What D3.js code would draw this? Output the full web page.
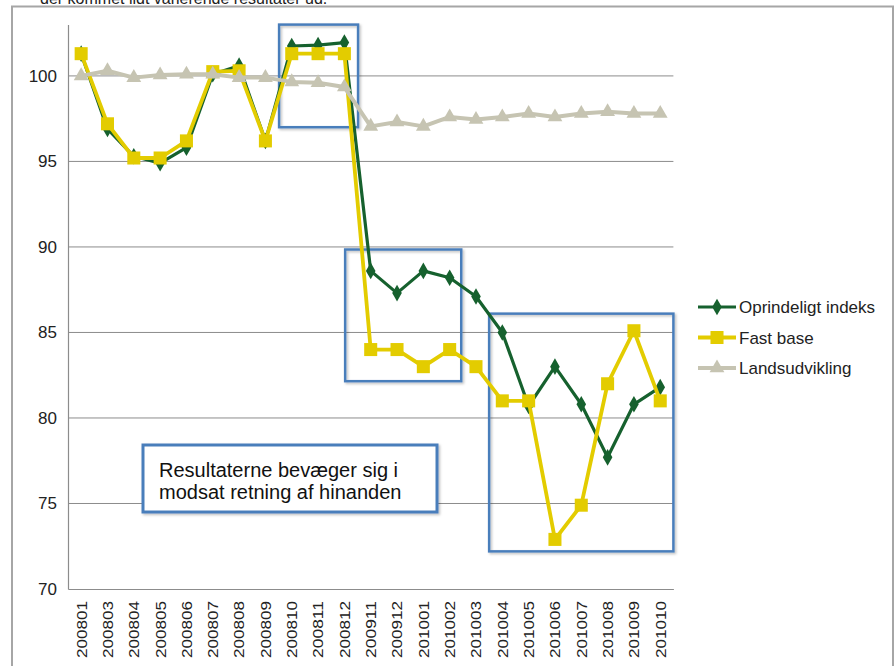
<!DOCTYPE html>
<html>
<head>
<meta charset="utf-8">
<script src="https://cdn.jsdelivr.net/npm/d3@7"></script>
<style>
  html, body { margin: 0; padding: 0; background: #fff; }
  svg { display: block; font-family: Arial, "Liberation Sans", sans-serif; }
</style>
</head>
<body>
<svg id="chart" width="895" height="666"></svg>
<script>
// Months shown on the category axis
const categories = ["200801","200803","200804","200805","200806","200807","200808","200809",
  "200810","200811","200812","200911","200912","201001","201002","201003","201004",
  "201005","201006","201007","201008","201009","201010"];

// Index values per series
const oprindeligt = [101.3, 96.9, 95.3, 94.9, 95.8, 100.1, 100.6, 96.2, 101.75, 101.8, 101.95,
  88.6, 87.3, 88.6, 88.2, 87.1, 85.0, 80.7, 83.0, 80.8, 77.7, 80.8, 81.8];
const fastBase = [101.3, 97.2, 95.2, 95.2, 96.2, 100.25, 100.3, 96.2, 101.3, 101.3, 101.3,
  84.0, 84.0, 83.0, 84.0, 83.0, 81.0, 81.0, 72.9, 74.9, 82.0, 85.1, 81.0];
const landsudvikling = [100.0, 100.3, 99.9, 100.05, 100.1, 100.1, 99.9, 99.9, 99.65, 99.6, 99.35,
  97.05, 97.3, 97.05, 97.6, 97.45, 97.6, 97.8, 97.6, 97.8, 97.9, 97.8, 97.8];

const seriesNames = ["Oprindeligt indeks", "Fast base", "Landsudvikling"];
const yTicks = [70, 75, 80, 85, 90, 95, 100];

// Highlight rectangles, given in category-index and index-value units
const highlightFrom = [7.52, 10.03, 15.5];
const highlightTo = [10.52, 14.44, 22.5];
const highlightTop = [103, 89.85, 86.1];
const highlightBottom = [97.0, 82.15, 72.2];

const noteLines = ["Resultaterne bevæger sig i", "modsat retning af hinanden"];
const introText = "der kommet lidt varierende resultater ud.";

const svg = d3.select("#chart");

const plot = { left: 68, right: 673.4, top: 24.6, bottom: 589 };

const x = d3.scaleBand().domain(categories).range([plot.left, plot.right]).padding(0);
const cx = c => x(c) + x.bandwidth() / 2;
const xi = d3.scaleLinear().domain([0, categories.length - 1])
  .range([cx(categories[0]), cx(categories[categories.length - 1])]);
const y = d3.scaleLinear().domain([70, 103]).range([plot.bottom, plot.top]);

// drop-shadow for the drawn shapes
const defs = svg.append("defs");
const f = defs.append("filter").attr("id", "shadow").attr("x", "-10%").attr("y", "-10%")
  .attr("width", "130%").attr("height", "130%");
f.append("feDropShadow").attr("dx", 1.5).attr("dy", 1.5).attr("stdDeviation", 1.2)
  .attr("flood-color", "#000").attr("flood-opacity", 0.25);

// intro line, clipped by the top of the window
svg.append("text").attr("x", 40).attr("y", 4).attr("font-size", 16).attr("fill", "#222")
  .text(introText);

// outer chart frame
svg.append("rect").attr("x", 12).attr("y", 6.5).attr("width", 881).attr("height", 700)
  .attr("fill", "none").attr("stroke", "#a6a6a6").attr("stroke-width", 2);

// gridlines
svg.append("g").selectAll("line").data(yTicks.filter(v => v > 70)).join("line")
  .attr("x1", plot.left).attr("x2", plot.right)
  .attr("y1", d => y(d)).attr("y2", d => y(d))
  .attr("stroke", "#8c8c8c").attr("stroke-width", 1);

// y axis
const yAxis = svg.append("g").attr("transform", `translate(${plot.left},0)`)
  .call(d3.axisLeft(y).tickValues(yTicks).tickSize(0).tickPadding(11));
yAxis.select(".domain").attr("stroke", "#8c8c8c").attr("stroke-width", 1.2);
yAxis.selectAll("text").attr("font-size", 17).attr("fill", "#222")
  .attr("font-family", "Arial, 'Liberation Sans', sans-serif");

// x axis
const xAxis = svg.append("g").attr("transform", `translate(0,${plot.bottom})`)
  .call(d3.axisBottom(x).tickSize(0));
xAxis.select(".domain").attr("stroke", "#8c8c8c").attr("stroke-width", 1.2);
xAxis.selectAll("text")
  .attr("font-size", 15).attr("fill", "#222")
  .attr("font-family", "Arial, 'Liberation Sans', sans-serif")
  .attr("text-anchor", "end")
  .attr("transform", "rotate(-90)")
  .attr("x", -12).attr("y", 0).attr("dy", "0.36em")
  .attr("textLength", 57).attr("lengthAdjust", "spacingAndGlyphs");

// highlight rectangles
svg.append("g").selectAll("rect").data(highlightFrom).join("rect")
  .attr("x", (d, i) => xi(d))
  .attr("y", (d, i) => y(highlightTop[i]))
  .attr("width", (d, i) => xi(highlightTo[i]) - xi(d))
  .attr("height", (d, i) => y(highlightBottom[i]) - y(highlightTop[i]))
  .attr("fill", "none").attr("stroke", "#4a7ebb").attr("stroke-width", 2.5)
  .attr("filter", "url(#shadow)");

// series
const series = [
  { name: seriesNames[0], values: oprindeligt, color: "#16612e", width: 3.2, symbol: d3.symbolDiamond, size: 80, rot: 0 },
  { name: seriesNames[1], values: fastBase, color: "#e3cc00", width: 3.8, symbol: d3.symbolSquare, size: 170, rot: 0 },
  { name: seriesNames[2], values: landsudvikling, color: "#c6c4b2", width: 4, symbol: d3.symbolTriangle, size: 95, rot: 0 }
];

const line = d3.line().x((d, i) => cx(categories[i])).y(d => y(d));

series.forEach(s => {
  const g = svg.append("g");
  g.append("path").attr("d", line(s.values)).attr("fill", "none")
    .attr("stroke", s.color).attr("stroke-width", s.width).attr("stroke-linejoin", "round");
  g.selectAll("path.m").data(s.values).join("path").attr("class", "m")
    .attr("d", d3.symbol().type(s.symbol).size(s.size))
    .attr("transform", (d, i) => `translate(${cx(categories[i])},${y(d)})`)
    .attr("fill", s.color);
});

// legend
const lg = svg.append("g");
series.forEach((s, i) => {
  const ly = 307 + i * 30.5;
  lg.append("line").attr("x1", 698).attr("x2", 736).attr("y1", ly).attr("y2", ly)
    .attr("stroke", s.color).attr("stroke-width", s.width);
  lg.append("path").attr("d", d3.symbol().type(s.symbol).size(s.size)())
    .attr("transform", `translate(717,${ly})`).attr("fill", s.color);
  lg.append("text").attr("x", 739).attr("y", ly).attr("dy", "0.36em")
    .attr("font-size", 17).attr("fill", "#222").text(s.name);
});

// note box
const note = svg.append("g");
note.append("rect").attr("x", 143).attr("y", 445).attr("width", 294).attr("height", 67)
  .attr("fill", "#fff").attr("stroke", "#4a7ebb").attr("stroke-width", 3)
  .attr("filter", "url(#shadow)");
note.selectAll("text").data(noteLines).join("text")
  .attr("x", 159).attr("y", (d, i) => 477 + i * 22)
  .attr("font-size", 20).attr("fill", "#111").text(d => d);
</script>
</body>
</html>
